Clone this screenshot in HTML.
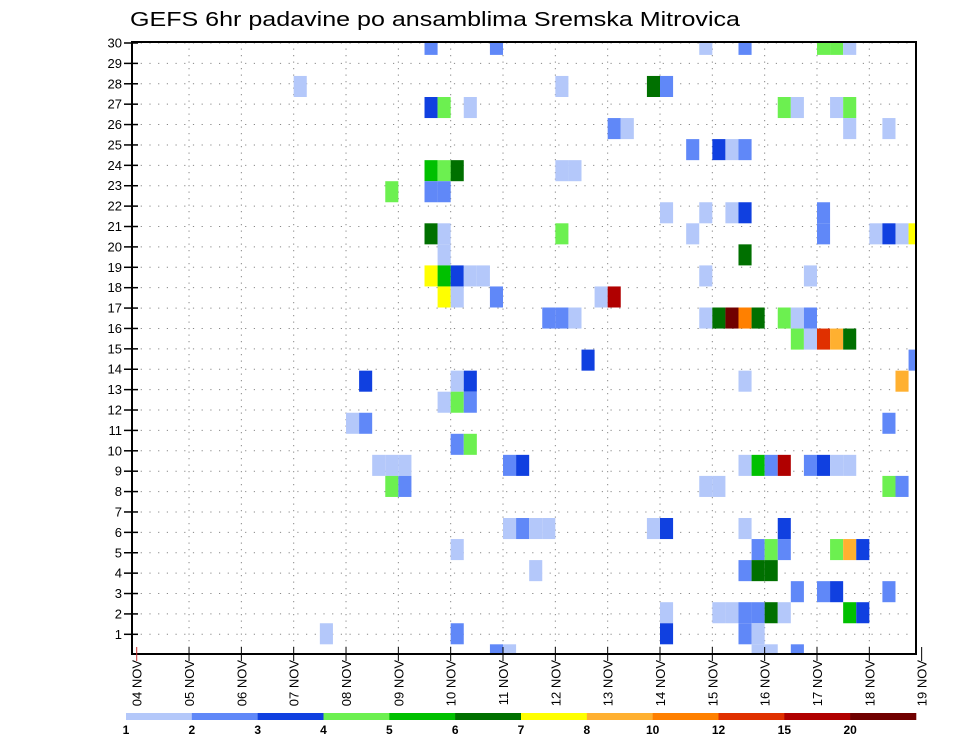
<!DOCTYPE html>
<html><head><meta charset="utf-8">
<style>
html,body{margin:0;padding:0;background:#fff;}
svg{display:block;font-family:"Liberation Sans",sans-serif;}
</style></head>
<body>
<svg id="chart" width="960" height="742" viewBox="0 0 960 742" xmlns="http://www.w3.org/2000/svg">
<text x="130" y="26" font-size="20" textLength="610" lengthAdjust="spacingAndGlyphs" fill="#000">GEFS 6hr padavine po ansamblima Sremska Mitrovica</text>
<defs><clipPath id="plotclip"><rect x="132" y="42" width="784" height="612"/></clipPath></defs>
<g id="grid"></g>
<g id="cells" clip-path="url(#plotclip)"></g>
<rect x="132" y="42" width="784" height="612" fill="none" stroke="#000" stroke-width="2"/>
<g id="axes"></g>
<g id="legend"></g>
</svg>
<script>
// ---- data ----
var dayLabels = ["04 NOV","05 NOV","06 NOV","07 NOV","08 NOV","09 NOV","10 NOV","11 NOV","12 NOV","13 NOV","14 NOV","15 NOV","16 NOV","17 NOV","18 NOV","19 NOV"];
var yTickLabels = [1,2,3,4,5,6,7,8,9,10,11,12,13,14,15,16,17,18,19,20,21,22,23,24,25,26,27,28,29,30];
var legendLabels = ["1","2","3","4","5","6","7","8","10","12","15","20"];
var levelColors = ["#b4c8fa","#6088f8","#1040e0","#6cf050","#00c000","#007000","#ffff00","#ffb030","#ff8000","#e03000","#b00000","#700000"];
// member row index (0 = bottom)
var cellMember = [
29,29,29,29,29,29,29,
27,27,27,27,
26,26,26,26,26,26,26,
25,25,25,25,
24,24,24,24,
23,23,23,23,23,
22,22,22,
21,21,21,21,21,
20,20,20,20,20,20,20,20,20,
19,19,
18,18,18,18,18,18,18,
17,17,17,17,17,
16,16,16,16,16,16,16,16,16,16,16,
15,15,15,15,15,
14,14,
13,13,13,13,13,
12,12,12,
11,11,11,
10,10,
9,9,9,9,9,9,9,9,9,9,9,9,9,
8,8,8,8,8,8,
6,6,6,6,6,6,6,6,
5,5,5,5,5,5,5,
4,4,4,4,
3,3,3,3,
2,2,2,2,2,2,2,2,2,
1,1,1,1,1,
0,0,0,0,0];
// 6-hour step index from 04 NOV 00Z
var cellStep = [
22,27,43,46,52,53,54,
12,32,39,40,
22,23,25,49,50,53,54,
36,37,54,57,
42,44,45,46,
22,23,24,32,33,
19,22,23,
40,43,45,46,52,
22,23,32,42,52,56,57,58,59,
23,46,
22,23,24,25,26,43,51,
23,24,27,35,36,
31,32,33,43,44,45,46,47,49,50,51,
50,51,52,53,54,
34,59,
17,24,25,46,58,
23,24,25,
16,17,57,
24,25,
18,19,20,28,29,46,47,48,49,51,52,53,54,
19,20,43,44,57,58,
28,29,30,31,39,40,46,49,
24,47,48,49,53,54,55,
30,46,47,48,
50,52,53,57,
40,44,45,46,47,48,49,54,55,
14,24,40,46,47,
27,28,47,48,50];
// precipitation class (1..12)
var cellLevel = [
2,2,1,2,4,4,1,
1,1,6,2,
3,4,1,4,1,1,4,
2,1,1,1,
2,3,1,2,
5,4,6,1,1,
4,2,2,
1,1,1,3,2,
6,1,4,1,2,1,3,1,7,
1,6,
7,5,3,1,1,1,1,
7,1,2,1,11,
2,2,1,1,6,12,9,6,4,1,2,
4,1,10,8,6,
3,2,
3,1,3,1,8,
1,4,2,
1,2,2,
2,4,
1,1,1,2,3,1,5,2,11,2,3,1,1,
4,2,1,1,4,2,
1,2,1,1,1,3,1,3,
1,2,4,2,4,8,3,
1,2,6,6,
2,2,3,2,
1,1,1,2,2,6,1,5,3,
1,2,3,2,1,
2,1,1,1,2];

// ---- axis functions ----
var NS="http://www.w3.org/2000/svg";
var X0=136.7, DAYW=52.33, STEPW=DAYW/4;
function xDay(d){return X0+d*DAYW;}
function xStep(i){return X0+i*STEPW;}
var CELLH=21.05, CELLBASE=644.3;
function yCellTop(r){return CELLBASE-r*CELLH;}
var TICK0=654.7, TICKSP=20.39;
function yTick(k){return TICK0-k*TICKSP;}
function mk(tag,attrs,parent){var e=document.createElementNS(NS,tag);for(var k in attrs)e.setAttribute(k,attrs[k]);parent.appendChild(e);return e;}

var grid=document.getElementById('grid');
var cells=document.getElementById('cells');
var axes=document.getElementById('axes');
var legend=document.getElementById('legend');

// grid
for(var d=1; d<dayLabels.length-1; d++){
  var gl=mk('line',{x1:xDay(d),x2:xDay(d),y1:42,y2:654,stroke:'#888','stroke-width':1,'stroke-dasharray':'1.2,5.3'},grid);
  
  
}
for(var k=0;k<yTickLabels.length;k++){
  var hl=mk('line',{x1:132,x2:916,y1:yTick(yTickLabels[k]),y2:yTick(yTickLabels[k]),stroke:'#888','stroke-width':1,'stroke-dasharray':'1.2,7.5'},grid);
  
  
}

// cells
for(var n=0;n<cellLevel.length;n++){
  var c=mk('rect',{x:xStep(cellStep[n]),y:yCellTop(cellMember[n]),width:STEPW,height:CELLH,fill:levelColors[cellLevel[n]-1]},cells);
  
  
}

// y axis
for(var k=0;k<yTickLabels.length;k++){
  var y=yTick(yTickLabels[k]);
  var t=mk('line',{x1:124,x2:138,y1:y,y2:y,stroke:'#000','stroke-width':1.5},axes);
  
  
  var lb=mk('text',{x:122,y:y+4.5,'font-size':13,'text-anchor':'end',fill:'#000'},axes);
  lb.textContent=String(yTickLabels[k]);
  
  
}
// x axis
for(var d=0; d<dayLabels.length; d++){
  var x=xDay(d);
  var xt=mk('line',{x1:x,x2:x,y1:647,y2:661,stroke:d==0?'#c33':'#000','stroke-width':1},axes);
  
  
  var xl=mk('text',{x:0,y:0,'font-size':13,'text-anchor':'end',fill:'#000',transform:'translate('+(x+5)+',660) rotate(-90)'},axes);
  xl.textContent=dayLabels[d];
  
  
}

// legend colorbar
var LX0=126, LW=(916-126)/levelColors.length;
for(var j=0;j<levelColors.length;j++){
  var sw=mk('rect',{x:LX0+j*LW,y:713,width:LW+0.3,height:7,fill:levelColors[j]},legend);
  
  
  var ll=mk('text',{x:LX0+j*LW,y:734,'font-size':12,'font-weight':'bold','text-anchor':'middle',fill:'#000'},legend);
  ll.textContent=legendLabels[j];
  
  
}
</script>
</body></html>
